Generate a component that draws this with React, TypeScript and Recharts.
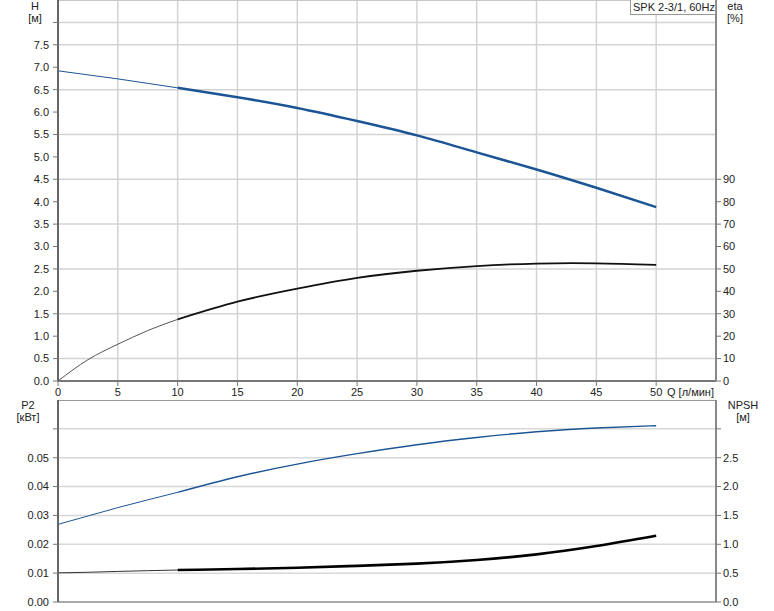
import { ComposedChart, Line, XAxis, YAxis, CartesianGrid, ReferenceLine } from "recharts";

// flow Q [l/min] and the curves
const qValues = [0, 2.5, 5, 7.5, 10, 15, 20, 25, 30, 35, 40, 45, 50];
const headValues = [6.92, 6.83, 6.74, 6.64, 6.54, 6.33, 6.09, 5.8, 5.48, 5.1, 4.72, 4.31, 3.88];
const etaValues = [0, 9.5, 16.4, 22.5, 27.5, 35.4, 41.2, 46.0, 49.2, 51.3, 52.4, 52.5, 51.8];
const p2Values = [0.0269, 0.0298, 0.0327, 0.0354, 0.038, 0.0434, 0.0478, 0.0514, 0.0545, 0.057, 0.059, 0.0603, 0.0611];
const npshValues = [0.505, 0.515, 0.53, 0.543, 0.554, 0.571, 0.594, 0.626, 0.665, 0.728, 0.825, 0.969, 1.147];

const qTicks = [0, 5, 10, 15, 20, 25, 30, 35, 40, 45, 50];
const headTicks = [0, 0.5, 1, 1.5, 2, 2.5, 3, 3.5, 4, 4.5, 5, 5.5, 6, 6.5, 7, 7.5, 8];
const etaTicks = [0, 10, 20, 30, 40, 50, 60, 70, 80, 90];
const p2Ticks = [0, 0.01, 0.02, 0.03, 0.04, 0.05, 0.06];
const npshTicks = [0, 0.5, 1, 1.5, 2, 2.5, 3];

const DUTY_START = 10; // thin line below this flow

const topData = qValues.map((q, i) => ({
  q,
  hThin: q <= DUTY_START ? headValues[i] : null,
  hThick: q >= DUTY_START ? headValues[i] : null,
  etaThin: q <= DUTY_START ? etaValues[i] : null,
  etaThick: q >= DUTY_START ? etaValues[i] : null,
}));

const bottomData = qValues.map((q, i) => ({
  q,
  p2Thin: q <= DUTY_START ? p2Values[i] : null,
  p2Thick: q >= DUTY_START ? p2Values[i] : null,
  npshThin: q <= DUTY_START ? npshValues[i] : null,
  npshThick: q >= DUTY_START ? npshValues[i] : null,
}));

const FONT = "'Liberation Sans', Arial, sans-serif";
const tickStyle = { fontSize: 11, fill: "#222", fontFamily: FONT };
const BLUE = "#1b5595";

const label = (left: number, top: number, text: string, w = 40) => (
  <div
    style={{
      position: "absolute",
      left: left - w / 2,
      top,
      width: w,
      textAlign: "center",
      fontSize: 11,
      fontFamily: FONT,
      color: "#222",
      lineHeight: "12px",
    }}
  >
    {text}
  </div>
);

export default function App() {
  return (
    <div style={{ position: "absolute", left: 0, top: 0, width: 774, height: 611, background: "#fff", overflow: "hidden" }}>
      <div style={{ position: "absolute", left: 0, top: 0 }}>
        <ComposedChart width={774} height={400} data={topData} margin={{ top: 0, right: 0, bottom: 0, left: 0 }}>
          <CartesianGrid yAxisId="h" stroke="#d3d3d3" strokeWidth={1.5} />
          <XAxis
            dataKey="q"
            type="number"
            domain={[0, 55]}
            ticks={qTicks}
            height={19}
            tick={tickStyle}
            tickSize={5}
            tickMargin={2}
            axisLine={{ stroke: "#777", strokeWidth: 2 }}
            tickLine={{ stroke: "#777" }}
          />
          <YAxis
            yAxisId="h"
            domain={[0, 8.5]}
            ticks={headTicks}
            width={58}
            tick={tickStyle}
            tickSize={5}
            tickMargin={4}
            tickFormatter={(v: number) => (v === 8 ? "" : v.toFixed(1))}
            axisLine={{ stroke: "#666", strokeWidth: 2 }}
            tickLine={{ stroke: "#777" }}
          />
          <YAxis
            yAxisId="eta"
            orientation="right"
            domain={[0, 170]}
            ticks={etaTicks}
            width={58}
            tick={{ ...tickStyle, textAnchor: "start" }}
            tickSize={5}
            tickMargin={2}
            axisLine={{ stroke: "#888", strokeWidth: 2 }}
            tickLine={{ stroke: "#777" }}
          />
          <ReferenceLine yAxisId="h" y={8.5} stroke="#c8c8c8" strokeWidth={2} />
          <Line yAxisId="h" type="natural" dataKey="hThin" stroke={BLUE} strokeWidth={1} dot={false} activeDot={false} isAnimationActive={false} />
          <Line yAxisId="h" type="natural" dataKey="hThick" stroke={BLUE} strokeWidth={2.5} dot={false} activeDot={false} isAnimationActive={false} />
          <Line yAxisId="eta" type="natural" dataKey="etaThin" stroke="#555" strokeWidth={1} dot={false} activeDot={false} isAnimationActive={false} />
          <Line yAxisId="eta" type="natural" dataKey="etaThick" stroke="#111" strokeWidth={1.8} dot={false} activeDot={false} isAnimationActive={false} />
        </ComposedChart>
      </div>

      <div style={{ position: "absolute", left: 0, top: 400 }}>
        <ComposedChart width={774} height={211} data={bottomData} margin={{ top: 0, right: 0, bottom: 0, left: 0 }}>
          <CartesianGrid yAxisId="p2" stroke="#d8d8d8" strokeWidth={1.5} />
          <XAxis
            dataKey="q"
            type="number"
            domain={[0, 55]}
            ticks={qTicks}
            height={9}
            tick={false}
            axisLine={{ stroke: "#aaa", strokeWidth: 2 }}
          />
          <YAxis
            yAxisId="p2"
            domain={[0, 0.07]}
            ticks={p2Ticks}
            width={58}
            tick={tickStyle}
            tickSize={5}
            tickMargin={4}
            tickFormatter={(v: number) => (v > 0.055 ? "" : v.toFixed(2))}
            axisLine={{ stroke: "#666", strokeWidth: 2 }}
            tickLine={{ stroke: "#777" }}
          />
          <YAxis
            yAxisId="npsh"
            orientation="right"
            domain={[0, 3.5]}
            ticks={npshTicks}
            width={58}
            tick={{ ...tickStyle, textAnchor: "start" }}
            tickSize={5}
            tickMargin={2}
            tickFormatter={(v: number) => (v === 3 ? "" : v.toFixed(1))}
            axisLine={{ stroke: "#888", strokeWidth: 2 }}
            tickLine={{ stroke: "#777" }}
          />
          <ReferenceLine yAxisId="p2" y={0.07} stroke="#999" strokeWidth={2} />
          <Line yAxisId="p2" type="natural" dataKey="p2Thin" stroke={BLUE} strokeWidth={1} dot={false} activeDot={false} isAnimationActive={false} />
          <Line yAxisId="p2" type="natural" dataKey="p2Thick" stroke={BLUE} strokeWidth={1.4} dot={false} activeDot={false} isAnimationActive={false} />
          <Line yAxisId="npsh" type="natural" dataKey="npshThin" stroke="#333" strokeWidth={1} dot={false} activeDot={false} isAnimationActive={false} />
          <Line yAxisId="npsh" type="natural" dataKey="npshThick" stroke="#000" strokeWidth={2.6} dot={false} activeDot={false} isAnimationActive={false} />
        </ComposedChart>
      </div>

      {label(35, 0, "H")}
      {label(35, 12, "[м]")}
      {label(735, 0, "eta")}
      {label(735, 12, "[%]")}
      {label(28, 399, "P2")}
      {label(28, 411, "[кВт]")}
      {label(743, 399, "NPSH")}
      {label(743, 411, "[м]")}
      <div style={{ position: "absolute", left: 667, top: 386, fontSize: 11, fontFamily: FONT, color: "#222", lineHeight: "12px", whiteSpace: "nowrap" }}>
        Q [л/мин]
      </div>
      <div
        style={{
          position: "absolute",
          left: 630,
          top: -1,
          width: 86,
          height: 16,
          border: "1px solid #999",
          background: "#fff",
          fontSize: 11,
          fontFamily: FONT,
          color: "#222",
          lineHeight: "15px",
          paddingLeft: 2,
          boxSizing: "border-box",
          whiteSpace: "nowrap",
        }}
      >
        SPK 2-3/1, 60Hz
      </div>
    </div>
  );
}
